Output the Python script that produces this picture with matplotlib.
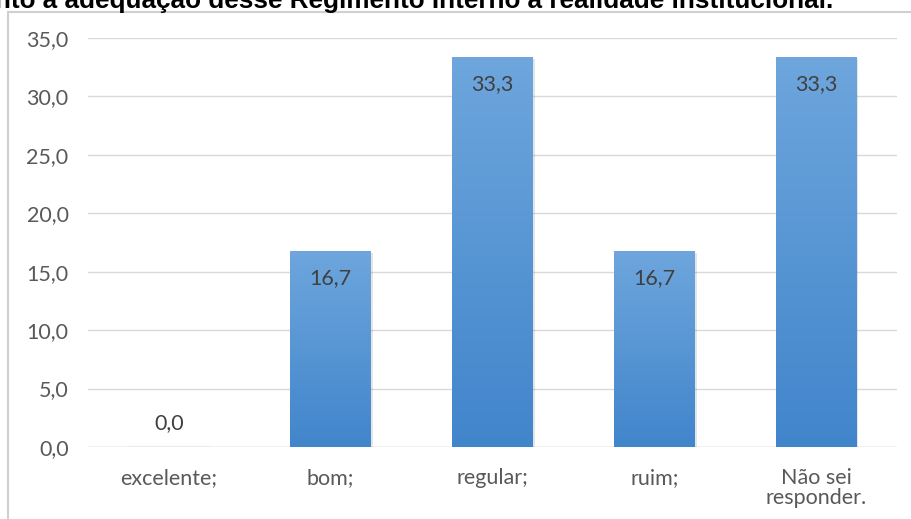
import numpy as np
import matplotlib
matplotlib.use('Agg')
from matplotlib import pyplot as plt
from matplotlib.colors import LinearSegmentedColormap
from matplotlib.patches import Rectangle

categories = ['excelente;', 'bom;', 'regular;', 'ruim;', 'Não sei\nresponder.']
values = [0.0, 16.7, 33.3, 16.7, 33.3]
yticks = [0, 5, 10, 15, 20, 25, 30, 35]
title = 'Quanto à adequação desse Regimento Interno à realidade institucional.'

plt.rcParams['font.family'] = ['Lato', 'DejaVu Sans']

fig = plt.figure(figsize=(9.12, 5.19), dpi=100)
# chart frame
fig.patches.append(Rectangle((8/912, -0.1), 1.0, 1 - 12/519 + 0.1, transform=fig.transFigure,
                             fill=False, edgecolor='#d0d0d0', linewidth=1.5))
fig.text(833/912, 1 - 8/519, title, ha='right', va='baseline', fontsize=18.8,
         fontweight='bold', family='Liberation Sans', color='black')

ax = fig.add_axes([88/912, 1 - 447/519, 809/912, (447 - 38)/519])
x = np.arange(len(categories))
w = 0.5
cmap = LinearSegmentedColormap.from_list('bar', ['#4185cb', '#6ea6dd'])
grad = np.linspace(0, 1, 256).reshape(-1, 1)
for xi, v in zip(x, values):
    if v <= 0:
        ax.add_patch(Rectangle((xi - w/2, 0), w, 0.12, color='#ececec', zorder=2))
        continue
    # soft shadow
    ax.add_patch(Rectangle((xi - w/2 + 0.012, -0.1), w, v, color='#000000', alpha=0.10,
                           linewidth=0, zorder=2))
    ax.imshow(grad, extent=[xi - w/2, xi + w/2, 0, v], origin='lower', cmap=cmap,
              aspect='auto', zorder=3)
    ax.annotate(f'{v:.1f}'.replace('.', ','), (xi, v), xytext=(0, -19), textcoords='offset points',
                ha='center', va='center', fontsize=15.5, color='#404040', zorder=4)
ax.annotate('0,0', (x[0], 0), xytext=(0, 17), textcoords='offset points',
            ha='center', va='center', fontsize=15.5, color='#404040')

ax.set_xlim(-0.5, len(categories) - 0.5)
ax.set_ylim(0, 35)
ax.set_yticks(yticks)
ax.set_yticklabels([f'{t:.1f}'.replace('.', ',') for t in yticks], fontsize=15.5, color='#595959')
ax.set_xticks(x)
ax.set_xticklabels(categories, fontsize=15.5, color='#595959', linespacing=1.0)
ax.tick_params(axis='y', length=0, pad=14)
ax.tick_params(axis='x', length=0, pad=15)
ax.grid(axis='y', color='#d9d9d9', linewidth=1)
ax.set_axisbelow(True)
for s in ax.spines.values():
    s.set_visible(False)
ax.axhline(0, color='#d9d9d9', linewidth=1, zorder=1)

fig.savefig('out.png', dpi=100)
